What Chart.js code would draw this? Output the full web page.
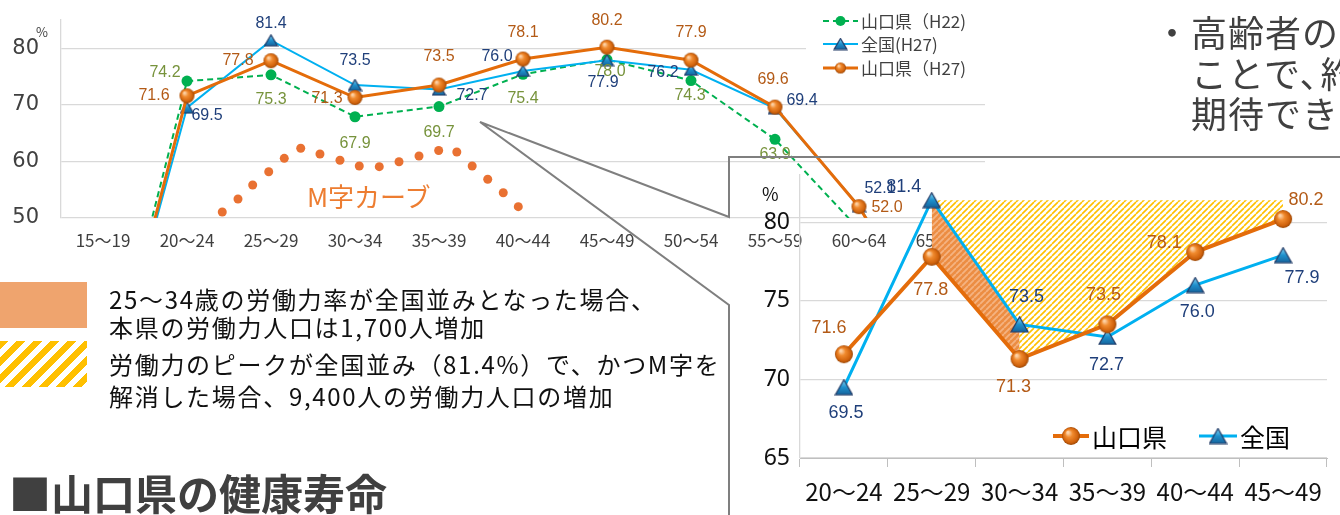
<!DOCTYPE html>
<html>
<head>
<meta charset="utf-8">
<script src="https://cdn.jsdelivr.net/npm/chart.js@4.4.1/dist/chart.umd.min.js"></script>
<style>
  body { margin: 0; width: 1340px; height: 515px; overflow: hidden; background: #fff; position: relative;
         font-family: "Noto Sans CJK JP", sans-serif; }
  .abs { position: absolute; white-space: nowrap; }
  #mainChart { position: absolute; left: 0; top: 0; z-index: 1; }
  #callout { position: absolute; left: 0; top: 0; z-index: 2; }
  #insetChart { position: absolute; left: 740px; top: 160px; z-index: 3; }
  .txt { z-index: 4; }
  .body { font-size: 24px; color: #111; left: 109px; line-height: 30px; letter-spacing: 1.7px; }
  .side { font-size: 36px; color: #404040; left: 1154px; line-height: 40px; letter-spacing: 1px; }
  .tight { margin-right: -16px; }
</style>
</head>
<body>
<canvas id="mainChart" width="1000" height="262"></canvas>
<svg id="callout" width="1340" height="515">
  <polyline points="1340,157 729,157 729,217 480,122 729,305 729,515" fill="none" stroke="#7F7F7F" stroke-width="2"/>
</svg>
<canvas id="insetChart" width="600" height="355"></canvas>

<div class="abs txt" style="left:36px;top:22px;font-size:13px;color:#404040;">%</div>
<div class="abs txt" style="left:762px;top:180px;font-size:18px;color:#111;">%</div>
<div class="abs txt" style="left:307px;top:177px;font-size:26px;color:#ED7D31;">M字カーブ</div>

<div class="abs txt" style="left:0;top:282px;width:87px;height:46px;background:#EFA46E;"></div>
<div class="abs txt" style="left:0;top:341px;width:87px;height:46px;
  background:repeating-linear-gradient(135deg,#FFC000 0 6px,#fff 6px 12px);"></div>
<div class="abs txt body" style="top:284px;">25～34歳の労働力率が全国並みとなった場合、</div>
<div class="abs txt body" style="top:312px;">本県の労働力人口は1,700人増加</div>
<div class="abs txt body" style="top:349px;">労働力のピークが全国並み（81.4%）で、かつM字を</div>
<div class="abs txt body" style="top:381px;">解消した場合、9,400人の労働力人口の増加</div>

<div class="abs txt" style="left:9px;top:465px;font-size:42px;font-weight:bold;color:#404040;line-height:54px;">■山口県の健康寿命</div>

<div class="abs txt side" style="top:11px;">・高齢者の活躍を促進する</div>
<div class="abs txt side" style="top:52px;">　ことで<span class="tight">、</span>約</div>
<div class="abs txt side" style="top:92px;">　期待できる</div>

<script>
// ================= DATA =================

const AGE_GROUPS = ["15～19", "20～24", "25～29", "30～34", "35～39", "40～44",
                    "45～49", "50～54", "55～59", "60～64", "65～69"];

// female labour force participation rate (%)
const YAMAGUCHI_H22 = [16.0, 74.2, 75.3, 67.9, 69.7, 75.4, 78.0, 74.3, 63.9, 48.0, 25.0];
const NATIONAL_H27  = [15.3, 69.5, 81.4, 73.5, 72.7, 76.0, 77.9, 76.2, 69.4, 52.1, 28.0];
const YAMAGUCHI_H27 = [14.7, 71.6, 77.8, 71.3, 73.5, 78.1, 80.2, 77.9, 69.6, 52.0, 27.3];

// decorative "M" dots (x in category units, y in %)
const M_CURVE_POS  = [1.420, 1.607, 1.782, 1.973, 2.158, 2.354, 2.583, 2.821, 3.051,
                      3.289, 3.524, 3.762, 3.996, 4.212, 4.395, 4.580, 4.765, 4.944];
const M_CURVE_RATE = [51.06, 53.36, 55.83, 58.18, 60.55, 62.32, 61.31, 60.20, 59.19,
                      59.07, 59.95, 60.96, 61.93, 61.67, 59.19, 56.84, 54.47, 52.00];

const MAIN_Y_TICKS = [50, 60, 70, 80];

// zoomed chart
const INSET_GROUPS    = ["20～24", "25～29", "30～34", "35～39", "40～44", "45～49"];
const INSET_YAMAGUCHI = [71.6, 77.8, 71.3, 73.5, 78.1, 80.2];
const INSET_NATIONAL  = [69.5, 81.4, 73.5, 72.7, 76.0, 77.9];
const PEAK_LINE       = [null, 81.4, 81.4, 81.4, 81.4, 81.4];
const GAP_LINE        = [null, 81.4, 73.5, null, null, null];
const INSET_Y_TICKS   = [65, 70, 75, 80];

// ================= LABEL PLACEMENT (px offsets from point) =================

const OFF_H22 = [null, [-22, -9], [0, 25], [0, 27], [0, 26], [0, 24], [3, 12], [-1, 15], [0, 15], null, null];
const OFF_NAT = [null, [20, 8], [0, -17], [0, -24], [33, 6], [-26, -14], [-4, 22], [-28, 3], [27, -8], [21, -18], null];
const OFF_Y27 = [null, [-33, 0], [-33, 0], [-28, 1], [0, -28], [0, -26], [0, -27], [0, -28], [-2, -28], [28, 1], null];

const OFF_INSET_Y = [[-15, -26], [-1, 33], [-6, 28], [-4, -29], [-31, -9], [23, -19]];
const OFF_INSET_N = [[2, 26], [-28, -13], [7, -27], [-1, 28], [2, 27], [19, 23]];

// ================= MARKERS / PATTERNS =================

function makeSphere(d) {
  const c = document.createElement("canvas");
  c.width = c.height = d + 2;
  const g = c.getContext("2d");
  const r = d / 2, cx = r + 1;
  const grad = g.createRadialGradient(cx - r * 0.35, cx - r * 0.4, r * 0.1, cx, cx, r);
  grad.addColorStop(0, "#FDD3A8");
  grad.addColorStop(0.35, "#F08A2E");
  grad.addColorStop(0.8, "#D0620C");
  grad.addColorStop(1, "#9A4706");
  g.fillStyle = grad;
  g.beginPath(); g.arc(cx, cx, r, 0, Math.PI * 2); g.fill();
  return c;
}

function makeTriangle(w, h) {
  const c = document.createElement("canvas");
  c.width = w + 2; c.height = h + 2;
  const g = c.getContext("2d");
  const grad = g.createLinearGradient(0, 1, 0, h + 1);
  grad.addColorStop(0, "#8AD8F7");
  grad.addColorStop(0.5, "#1E90CC");
  grad.addColorStop(1, "#16639C");
  g.fillStyle = grad;
  g.strokeStyle = "#1F3864";
  g.lineWidth = 1.2;
  g.beginPath();
  g.moveTo(w / 2 + 1, 1); g.lineTo(w + 1, h + 1); g.lineTo(1, h + 1); g.closePath();
  g.fill(); g.stroke();
  return c;
}

function hatch(ctx, bg, fg, size, lw) {
  const c = document.createElement("canvas");
  c.width = c.height = size;
  const g = c.getContext("2d");
  g.fillStyle = bg; g.fillRect(0, 0, size, size);
  g.strokeStyle = fg; g.lineWidth = lw;
  g.beginPath();
  [-size, 0, size].forEach(o => { g.moveTo(o, size); g.lineTo(o + size, 0); });
  g.stroke();
  return ctx.createPattern(c, "repeat");
}

const sphereMain = makeSphere(15), triMain = makeTriangle(13, 11);
const sphereInset = makeSphere(18), triInset = makeTriangle(17, 15);

// y scales: no extra label padding, chart area comes from layout padding only
function noLabelPadding(s) {
  s.paddingTop = 0;
  s.paddingBottom = 0;
}

// ================= PLUGINS =================

const pointLabels = {
  id: "pointLabels",
  afterDatasetsDraw(chart) {
    const ctx = chart.ctx;
    chart.data.datasets.forEach((ds, di) => {
      if (!ds.labelOffsets) return;
      const meta = chart.getDatasetMeta(di);
      ctx.save();
      ctx.font = ds.labelFont;
      ctx.fillStyle = ds.labelColor;
      ctx.textAlign = "center";
      ctx.textBaseline = "middle";
      meta.data.forEach((pt, i) => {
        const off = ds.labelOffsets[i];
        if (!off || ds.data[i] == null) return;
        ctx.fillText(ds.data[i].toFixed(1), pt.x + off[0], pt.y + off[1]);
      });
      ctx.restore();
    });
  }
};

function drawLegend(ctx, box, items, font, color) {
  ctx.save();
  if (box) { ctx.fillStyle = "#fff"; ctx.fillRect(box[0], box[1], box[2], box[3]); }
  items.forEach(it => {
    ctx.strokeStyle = it.color;
    ctx.lineWidth = it.width;
    ctx.setLineDash(it.dash || []);
    ctx.beginPath(); ctx.moveTo(it.x0, it.y); ctx.lineTo(it.x1, it.y); ctx.stroke();
    ctx.setLineDash([]);
    const mx = (it.x0 + it.x1) / 2;
    if (it.marker === "dot") {
      ctx.fillStyle = it.color;
      ctx.beginPath(); ctx.arc(mx, it.y, 5, 0, Math.PI * 2); ctx.fill();
    } else {
      ctx.drawImage(it.marker, mx - it.marker.width / 2, it.y - it.marker.height / 2);
    }
    ctx.font = font;
    ctx.fillStyle = color;
    ctx.textBaseline = "middle";
    ctx.fillText(it.text, it.x1 + 3, it.y + 1);
  });
  ctx.restore();
}

const mainLegend = {
  id: "mainLegend",
  afterDraw(chart) {
    drawLegend(chart.ctx, [806, 2, 190, 80], [
      { text: "山口県（H22)", color: "#00B050", width: 2, dash: [6, 4], marker: "dot", x0: 823, x1: 858, y: 21 },
      { text: "全国(H27)", color: "#00B0F0", width: 2, marker: triMain, x0: 823, x1: 858, y: 44 },
      { text: "山口県（H27)", color: "#E46C0A", width: 3, marker: makeSphere(11), x0: 823, x1: 858, y: 68 }
    ], "17px 'Noto Sans CJK JP'", "#404040");
  }
};

const insetLegend = {
  id: "insetLegend",
  afterDraw(chart) {
    drawLegend(chart.ctx, null, [
      { text: "山口県", color: "#E46C0A", width: 4, marker: sphereInset, x0: 313, x1: 349, y: 276 },
      { text: "全国", color: "#00B0F0", width: 3, marker: triInset, x0: 459, x1: 497, y: 276 }
    ], "25px 'Noto Sans CJK JP'", "#000");
  }
};

// ================= MAIN CHART =================

new Chart(document.getElementById("mainChart"), {
  type: "line",
  data: {
    labels: AGE_GROUPS,
    datasets: [
      {
        label: "山口県（H22)",
        data: YAMAGUCHI_H22,
        xAxisID: "x",
        borderColor: "#00B050",
        borderWidth: 2,
        borderDash: [6, 4],
        pointStyle: "circle",
        pointRadius: 5.5,
        pointBackgroundColor: "#00B050",
        pointBorderWidth: 0,
        order: 2,
        labelOffsets: OFF_H22,
        labelColor: "#77933C",
        labelFont: "16px 'Liberation Sans'"
      },
      {
        label: "全国(H27)",
        data: NATIONAL_H27,
        xAxisID: "x",
        borderColor: "#00B0F0",
        borderWidth: 2,
        pointStyle: triMain,
        pointRadius: 6,
        order: 1,
        labelOffsets: OFF_NAT,
        labelColor: "#1F3F7A",
        labelFont: "16px 'Liberation Sans'"
      },
      {
        label: "山口県（H27)",
        data: YAMAGUCHI_H27,
        xAxisID: "x",
        borderColor: "#E46C0A",
        borderWidth: 3,
        pointStyle: sphereMain,
        pointRadius: 7.5,
        order: 0,
        labelOffsets: OFF_Y27,
        labelColor: "#B35A16",
        labelFont: "16px 'Liberation Sans'"
      },
      {
        type: "scatter",
        label: "M字カーブ",
        data: M_CURVE_POS.map((x, i) => ({ x: x, y: M_CURVE_RATE[i] })),
        xAxisID: "xm",
        showLine: false,
        pointRadius: 4.5,
        pointBackgroundColor: "#E97132",
        pointBorderWidth: 0,
        order: 3
      }
    ]
  },
  options: {
    responsive: false,
    animation: false,
    events: [],
    layout: { padding: { top: 20, right: 15, left: 0, bottom: 0 } },
    plugins: { legend: { display: false }, tooltip: { enabled: false } },
    elements: { line: { tension: 0 } },
    scales: {
      x: {
        type: "category",
        offset: true,
        grid: { display: false, drawTicks: false },
        border: { display: false },
        ticks: {
          font: { family: "Noto Sans CJK JP", size: 17 },
          color: "#404040",
          padding: 12,
          autoSkip: false,
          maxRotation: 0
        },
        afterFit(s) { s.height = 44; }
      },
      xm: { type: "linear", display: false, min: -0.5, max: 10.5 },
      y: {
        min: 50,
        max: 85,
        afterBuildTicks(s) { s.ticks = MAIN_Y_TICKS.map(v => ({ value: v })); },
        grid: { color: "#D9D9D9", lineWidth: 1.3, drawTicks: false },
        border: { display: true, color: "#D9D9D9", width: 1.3 },
        ticks: { font: { family: "DejaVu Sans", size: 21 }, color: "#404040", padding: 22 },
        afterFit(s) { s.width = 61; noLabelPadding(s); }
      }
    }
  },
  plugins: [pointLabels, mainLegend]
});

// ================= INSET (25～34 ZOOM) =================

const insetCanvas = document.getElementById("insetChart");
const insetCtx = insetCanvas.getContext("2d");
const yellowHatch = hatch(insetCtx, "#FFFFFF", "#FFC000", 6, 1.6);
const orangeHatch = hatch(insetCtx, "#EC8D43", "#F5B381", 6, 1.8);

new Chart(insetCanvas, {
  type: "line",
  data: {
    labels: INSET_GROUPS,
    datasets: [
      {
        label: "山口県",
        data: INSET_YAMAGUCHI,
        borderColor: "#E46C0A",
        borderWidth: 4,
        pointStyle: sphereInset,
        pointRadius: 9,
        order: 0,
        labelOffsets: OFF_INSET_Y,
        labelColor: "#B35A16",
        labelFont: "18px 'Liberation Sans'"
      },
      {
        label: "全国",
        data: INSET_NATIONAL,
        borderColor: "#00B0F0",
        borderWidth: 3,
        pointStyle: triInset,
        pointRadius: 8,
        order: 1,
        labelOffsets: OFF_INSET_N,
        labelColor: "#1F3F7A",
        labelFont: "18px 'Liberation Sans'"
      },
      {
        label: "25～34歳",
        data: GAP_LINE,
        fill: { target: 0 },
        backgroundColor: orangeHatch,
        borderWidth: 0,
        pointRadius: 0,
        order: 2
      },
      {
        label: "ピーク",
        data: PEAK_LINE,
        fill: { target: 0 },
        backgroundColor: yellowHatch,
        borderWidth: 0,
        pointRadius: 0,
        order: 3
      }
    ]
  },
  options: {
    responsive: false,
    animation: false,
    events: [],
    layout: { padding: { top: 15, right: 0, left: 0, bottom: 0 } },
    plugins: { legend: { display: false }, tooltip: { enabled: false } },
    elements: { line: { tension: 0 } },
    scales: {
      x: {
        offset: true,
        grid: { display: true, drawOnChartArea: false, drawTicks: true, tickLength: 9, color: "#BFBFBF", offset: true },
        border: { display: true, color: "#BFBFBF" },
        ticks: {
          font: { family: "Noto Sans CJK JP", size: 24 },
          color: "#111",
          padding: 10,
          autoSkip: false,
          maxRotation: 0
        },
        afterFit(s) { s.height = 57; }
      },
      y: {
        min: 65,
        max: 83,
        afterBuildTicks(s) { s.ticks = INSET_Y_TICKS.map(v => ({ value: v })); },
        grid: { color: "#D9D9D9", lineWidth: 1.3, drawTicks: false },
        border: { display: true, color: "#D9D9D9", width: 1.3 },
        ticks: { font: { family: "Noto Sans", size: 23 }, color: "#111", padding: 10 },
        afterFit(s) { s.width = 60; noLabelPadding(s); }
      }
    }
  },
  plugins: [pointLabels, insetLegend]
});
</script>
</body>
</html>
